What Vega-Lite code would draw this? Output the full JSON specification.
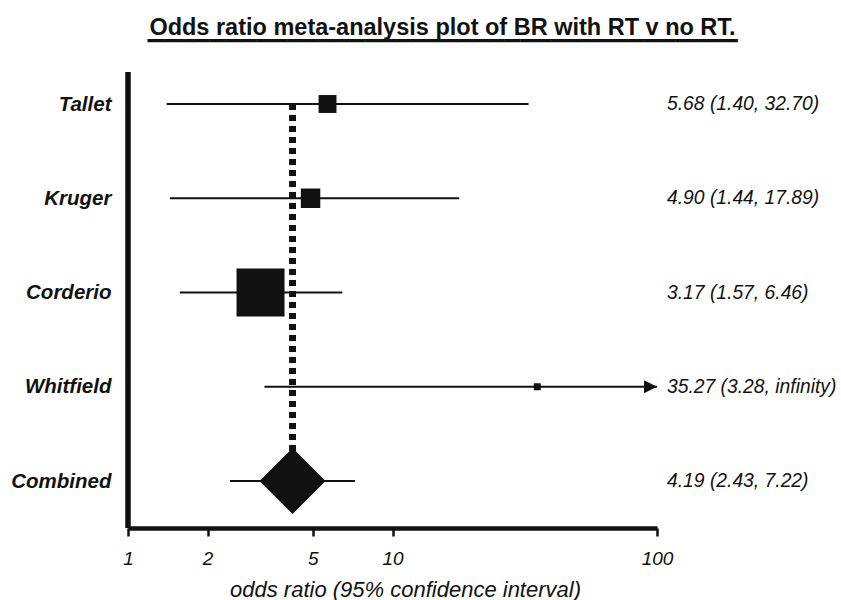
{
  "$schema": "https://vega.github.io/schema/vega-lite/v6.json",
  "autosize": "none",
  "width": 529,
  "height": 456,
  "padding": {"left": 128, "top": 72, "right": 184, "bottom": 72},
  "background": "white",
  "config": {"view": {"stroke": null}, "font": "Liberation Sans"},
  "title": {
    "text": "Odds ratio meta-analysis plot of BR with RT v no RT.",
    "subtitle": "▔▔▔▔▔▔▔▔▔▔▔▔▔▔▔▔▔▔▔▔▔▔▔▔▔▔▔▔▔▔▔▔▔▔▔▔▔▔",
    "font": "Liberation Sans",
    "fontSize": 23.5,
    "fontWeight": "bold",
    "color": "#111111",
    "subtitleFont": "DejaVu Sans",
    "subtitleFontSize": 20.2,
    "subtitleColor": "#111111",
    "subtitlePadding": 2,
    "anchor": "middle",
    "frame": "group",
    "dx": 50,
    "offset": 8
  },
  "data": {
    "values": [
      {"study": "Tallet", "type": "study", "or": 5.68, "lower": 1.40, "upper": 32.70, "weight": 10.5, "label": "5.68 (1.40, 32.70)"},
      {"study": "Kruger", "type": "study", "or": 4.90, "lower": 1.44, "upper": 17.89, "weight": 12.4, "label": "4.90 (1.44, 17.89)"},
      {"study": "Corderio", "type": "study", "or": 3.17, "lower": 1.57, "upper": 6.46, "weight": 75.5, "label": "3.17 (1.57, 6.46)"},
      {"study": "Whitfield", "type": "study", "or": 35.27, "lower": 3.28, "upper": 1e308, "weight": 1.6, "label": "35.27 (3.28, infinity)"},
      {"study": "Combined", "type": "combined", "or": 4.19, "lower": 2.43, "upper": 7.22, "label": "4.19 (2.43, 7.22)"}
    ]
  },
  "encoding": {
    "y": {
      "field": "study",
      "type": "nominal",
      "scale": {"type": "point", "domain": ["Tallet", "Kruger", "Corderio", "Whitfield", "Combined"], "range": [32, 409], "padding": 0},
      "axis": {
        "title": null,
        "domain": false,
        "ticks": false,
        "tickSize": 0,
        "grid": false,
        "labelFont": "Liberation Sans",
        "labelFontSize": 20.5,
        "labelFontWeight": "bold",
        "labelFontStyle": "italic",
        "labelColor": "#111111",
        "labelPadding": 17
      }
    }
  },
  "layer": [
    {
      "mark": {"type": "rule", "color": "#111111", "strokeWidth": 4.5},
      "encoding": {
        "x": {
          "datum": 1,
          "type": "quantitative",
          "scale": {"type": "log", "domain": [1, 100], "clamp": true, "nice": false},
          "axis": {
            "title": "odds ratio (95% confidence interval)",
            "values": [1, 2, 5, 10, 100],
            "format": "d",
            "grid": false,
            "domain": true,
            "domainColor": "#111111",
            "domainWidth": 4.5,
            "ticks": true,
            "tickColor": "#111111",
            "tickWidth": 2.5,
            "tickSize": 8,
            "labelFont": "Liberation Sans",
            "labelFontSize": 19,
            "labelFontStyle": "italic",
            "labelColor": "#111111",
            "labelPadding": 13,
            "labelFlush": false,
            "titleFont": "Liberation Sans",
            "titleFontSize": 22,
            "titleFontStyle": "italic",
            "titleFontWeight": "normal",
            "titleColor": "#111111",
            "titlePadding": 11,
            "titleX": 277,
            "titleAlign": "center"
          }
        },
        "y": null
      }
    },
    {
      "mark": {"type": "rule", "color": "#111111", "strokeWidth": 6, "strokeDash": [6, 5]},
      "encoding": {
        "x": {"datum": 4.19, "type": "quantitative"},
        "y": {"datum": "Tallet", "type": "nominal"},
        "y2": {"datum": "Combined"}
      }
    },
    {
      "mark": {"type": "rule", "color": "#111111", "strokeWidth": 2.2},
      "encoding": {
        "x": {"field": "lower", "type": "quantitative"},
        "x2": {"field": "upper"}
      }
    },
    {
      "transform": [{"filter": "datum.type === 'study'"}],
      "mark": {"type": "point", "shape": "square", "filled": true, "color": "#111111", "opacity": 1},
      "encoding": {
        "x": {"field": "or", "type": "quantitative"},
        "size": {"field": "weight", "type": "quantitative", "scale": {"type": "linear", "domain": [0, 75.5], "range": [0, 2304]}, "legend": null}
      }
    },
    {
      "transform": [{"filter": "datum.type === 'combined'"}],
      "mark": {"type": "point", "shape": "diamond", "filled": true, "color": "#111111", "opacity": 1, "size": 4356},
      "encoding": {
        "x": {"field": "or", "type": "quantitative"}
      }
    },
    {
      "transform": [{"filter": "datum.upper > 100"}],
      "mark": {"type": "point", "shape": "M0,0L-2,-1L-2,1Z", "filled": true, "color": "#111111", "opacity": 1, "size": 169},
      "encoding": {
        "x": {"field": "upper", "type": "quantitative"}
      }
    },
    {
      "mark": {"type": "text", "align": "left", "baseline": "middle", "dx": 10, "font": "Liberation Sans", "fontSize": 19.3, "fontStyle": "italic", "color": "#111111"},
      "encoding": {
        "x": {"datum": 100, "type": "quantitative"},
        "text": {"field": "label"}
      }
    }
  ]
}
